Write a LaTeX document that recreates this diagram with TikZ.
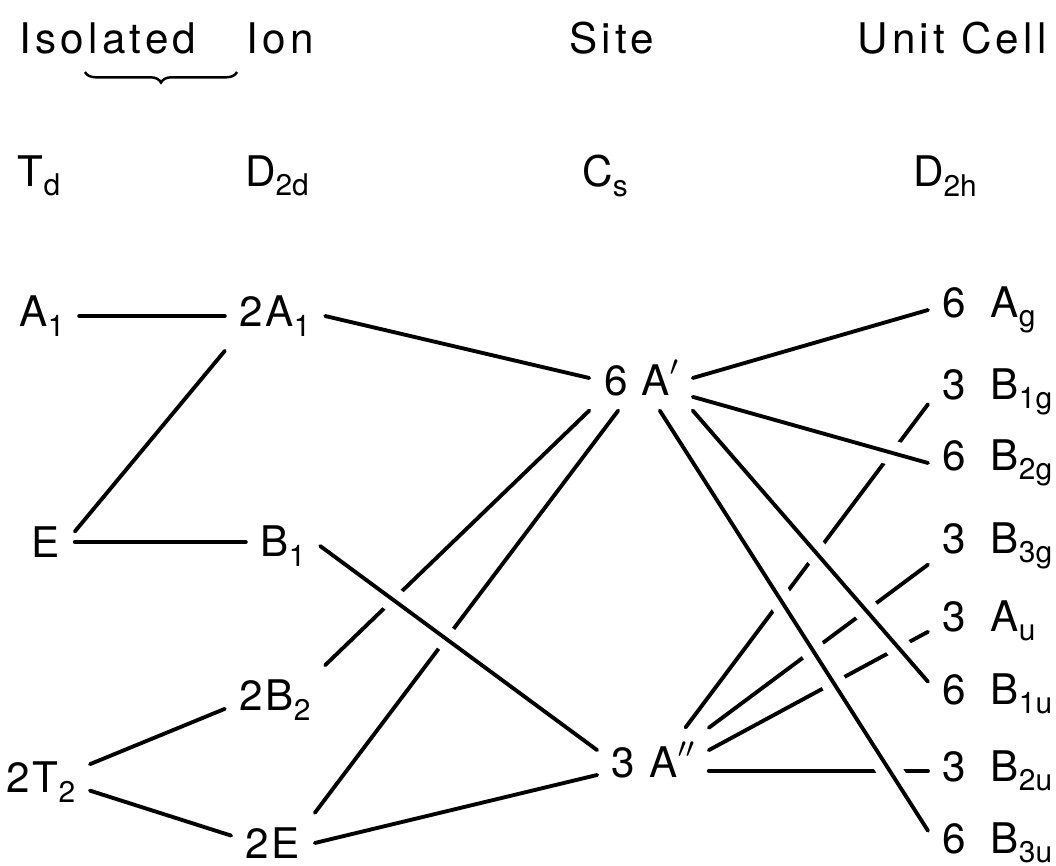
\documentclass[tikz,border=0pt]{standalone}
\usepackage{fontspec}
\setmainfont{TeX Gyre Heros}[LetterSpace=6]
\usetikzlibrary{decorations.pathreplacing}
\newcommand{\lo}[1]{\raisebox{-0.22em}{\fontsize{8.5}{10}\selectfont\addfontfeature{LetterSpace=0}#1}}
\newcommand{\prm}[1]{\raisebox{5.5pt}{$\scriptstyle#1$}}

\begin{document}
\begin{tikzpicture}[
    x=0.01cm,y=-0.01cm,
    lbl/.style={inner sep=4pt,font=\fontsize{12}{14}\selectfont},
    head/.style={lbl,font=\fontsize{12}{14}\selectfont\addfontfeature{LetterSpace=10}},
    ucell/.style={lbl,anchor=west},
    line/.style={line width=1.1pt,line cap=round},
    gap/.style={line width=7pt,white,shorten <=3pt,shorten >=3pt},
    brc/.style={decorate,decoration={brace,amplitude=3pt,mirror},line width=0.7pt}
    ]
    \useasboundingbox (0,0) rectangle (1056,866);
    \node[head] (isolated) at (108,38) {Isolated};
    \node[head] (ion) at (280,38) {Ion};
    \node[head] (site) at (612,38) {Site};
    \node[head] (unitcell) at (952,38) {Unit Cell};
    \draw[brc] (85,72) -- (237,72);
    \node[lbl] (td) at (39,176) {T\lo{d}};
    \node[lbl] (dtwod) at (277,176) {D\lo{2d}};
    \node[lbl] (cs) at (605,176) {C\lo{s}};
    \node[lbl] (dtwoh) at (945,176) {D\lo{2h}};

    \node[lbl] (a1) at (42,316) {A\lo{1}};
    \node[lbl] (twoa1) at (275,316) {2A\lo{1}};
    \node[lbl] (e) at (46,542) {E};
    \node[lbl] (bi) at (283,546) {B\lo{1}};
    \node[lbl] (twobii) at (275,700) {2B\lo{2}};
    \node[lbl] (twotii) at (41,782) {2T\lo{2}};
    \node[lbl] (twoe) at (273,843) {2E};
    \node[lbl] (sixa) at (641,378) {6 A\prm{\prime}};
    \node[lbl] (threea) at (653,760) {3 A\prm{\prime\prime}};

    \node[ucell] (ag) at (928,310) {6\hspace{7pt}A\lo{g}};
    \node[ucell] (big) at (928,392) {3\hspace{7pt}B\lo{1g}};
    \node[ucell] (biig) at (928,463) {6\hspace{7pt}B\lo{2g}};
    \node[ucell] (biiig) at (928,546) {3\hspace{7pt}B\lo{3g}};
    \node[ucell] (au) at (928,621) {3\hspace{7pt}A\lo{u}};
    \node[ucell] (biu) at (928,694) {6\hspace{7pt}B\lo{1u}};
    \node[ucell] (biiu) at (928,771) {3\hspace{7pt}B\lo{2u}};
    \node[ucell] (biiiu) at (928,843) {6\hspace{7pt}B\lo{3u}};

    \draw[line] (sixa.south west) -- (twobii.north east);
    \draw[line] (sixa.-125) -- (twoe.north east);
    \draw[line] (threea.45) -- (big.190);
    \draw[line] (threea.30) -- (biiig.195);
    \draw[line] (threea.10) -- (au.190);
    \draw[line] (threea.east |- biiu.west) -- (biiu.west);
    \foreach \s in {gap,line}
      \foreach \a/\b in {bi.east/threea.170,sixa.-20/biig.west,sixa.south east/biu.170,sixa.-60/biiiu.170}
        \draw[\s] (\a) -- (\b);

    \draw[line] (a1) -- (twoa1);
    \draw[line] (twoa1.south west) -- (e.20);
    \draw[line] (e.east) -- (e.east -| bi.west);
    \draw[line] (twoa1.east) -- (sixa.west);
    \draw[line] (sixa.east) -- (ag.west);
    \draw[line] (twotii.20) -- (twobii.190);
    \draw[line] (twotii.-10) -- (twoe.170);
    \draw[line] (twoe.east) -- (threea.195);
  \end{tikzpicture}
\end{document}
